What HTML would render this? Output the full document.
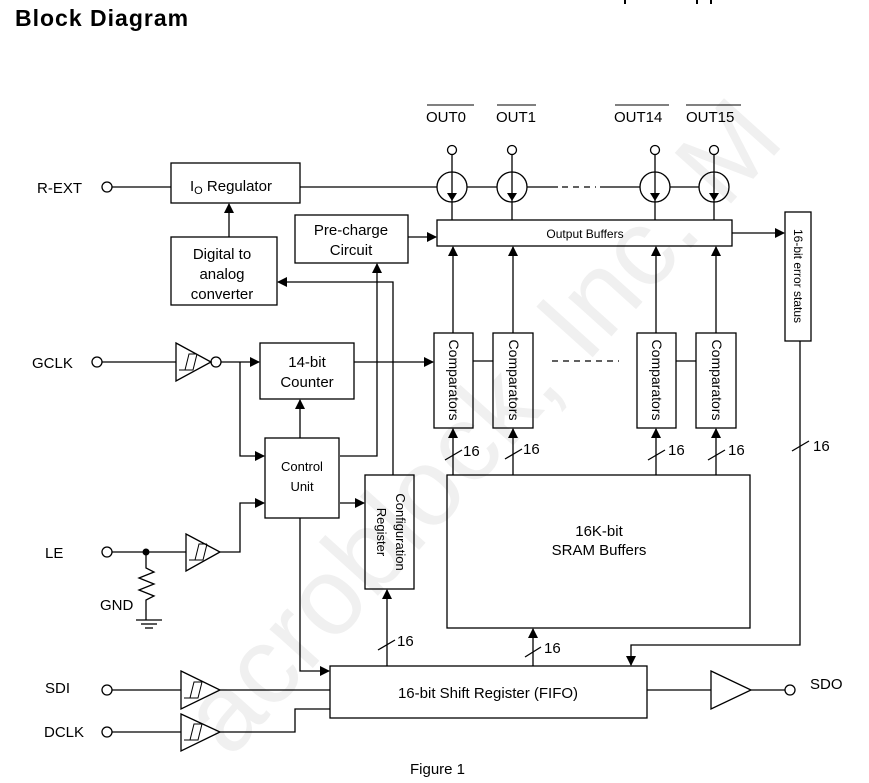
<!DOCTYPE html>
<html><head><meta charset="utf-8"><style>
html,body{margin:0;padding:0;background:#fff;width:869px;height:783px;overflow:hidden;}
svg{display:block;overflow:hidden;}
text{font-family:"Liberation Sans",Arial,sans-serif;fill:#000;}
</style></head><body>
<svg width="869" height="783" viewBox="0 0 869 783" xmlns="http://www.w3.org/2000/svg">
<defs>
<marker id="a" markerWidth="10" markerHeight="10" refX="9" refY="5" orient="auto" markerUnits="userSpaceOnUse">
<path d="M0,0 L10,5 L0,10 z" fill="#000"/></marker>
</defs>
<text x="0" y="0" transform="translate(230,760) rotate(-48)" font-size="110" style="fill:#f0f0f0">acroblock, Inc. M</text>

<text x="15" y="26" font-size="23" font-weight="bold" letter-spacing="1">Block Diagram</text>
<g fill="#000"><rect x="624" y="0" width="2" height="4"/><rect x="696" y="0" width="2" height="4"/><rect x="710" y="0" width="2" height="4"/></g>

<g stroke="#000" stroke-width="1.3" fill="none">
<circle cx="107" cy="187" r="5" fill="#fff"/>
<line x1="112" y1="187" x2="171" y2="187"/>
<rect x="171" y="163" width="129" height="40"/>
<line x1="300" y1="187" x2="437" y2="187"/>
<rect x="171" y="237" width="106" height="68"/>
<line x1="229" y1="237" x2="229" y2="204" marker-end="url(#a)"/>
<rect x="295" y="215" width="113" height="48"/>
<line x1="408" y1="237" x2="436" y2="237" marker-end="url(#a)"/>
<polyline points="340,456 377,456 377,264" marker-end="url(#a)"/>
<polyline points="393,475 393,282 278,282" marker-end="url(#a)"/>

<line x1="467" y1="187" x2="497" y2="187"/>
<line x1="527" y1="187" x2="558" y2="187"/>
<line x1="562" y1="187" x2="596" y2="187" stroke-dasharray="6,5"/>
<line x1="600" y1="187" x2="640" y2="187"/>
<line x1="670" y1="187" x2="699" y2="187"/>
<g>
<circle cx="452" cy="150" r="4.5"/><line x1="452" y1="155" x2="452" y2="220"/><circle cx="452" cy="187" r="15"/>
<circle cx="512" cy="150" r="4.5"/><line x1="512" y1="155" x2="512" y2="220"/><circle cx="512" cy="187" r="15"/>
<circle cx="655" cy="150" r="4.5"/><line x1="655" y1="155" x2="655" y2="220"/><circle cx="655" cy="187" r="15"/>
<circle cx="714" cy="150" r="4.5"/><line x1="714" y1="155" x2="714" y2="220"/><circle cx="714" cy="187" r="15"/>
</g>
<rect x="437" y="220" width="295" height="26"/>
<line x1="732" y1="233" x2="784" y2="233" marker-end="url(#a)"/>
<rect x="785" y="212" width="26" height="129"/>

<rect x="434" y="333" width="39" height="95"/>
<rect x="493" y="333" width="40" height="95"/>
<rect x="637" y="333" width="39" height="95"/>
<rect x="696" y="333" width="40" height="95"/>
<line x1="473" y1="361" x2="493" y2="361"/>
<line x1="676" y1="361" x2="696" y2="361"/>
<line x1="552" y1="361" x2="619" y2="361" stroke-dasharray="6,5"/>
<line x1="453" y1="333" x2="453" y2="247" marker-end="url(#a)"/>
<line x1="513" y1="333" x2="513" y2="247" marker-end="url(#a)"/>
<line x1="656" y1="333" x2="656" y2="247" marker-end="url(#a)"/>
<line x1="716" y1="333" x2="716" y2="247" marker-end="url(#a)"/>
<line x1="453" y1="475" x2="453" y2="429" marker-end="url(#a)"/>
<line x1="513" y1="475" x2="513" y2="429" marker-end="url(#a)"/>
<line x1="656" y1="475" x2="656" y2="429" marker-end="url(#a)"/>
<line x1="716" y1="475" x2="716" y2="429" marker-end="url(#a)"/>
<line x1="445" y1="460" x2="462" y2="450"/>
<line x1="505" y1="459" x2="522" y2="449"/>
<line x1="648" y1="460" x2="665" y2="450"/>
<line x1="708" y1="460" x2="725" y2="450"/>
<line x1="792" y1="451" x2="809" y2="441"/>
<polyline points="800,341 800,645 631,645 631,665" marker-end="url(#a)"/>

<rect x="447" y="475" width="303" height="153"/>
<line x1="533" y1="666" x2="533" y2="629" marker-end="url(#a)"/>
<line x1="525" y1="657" x2="541" y2="647"/>

<circle cx="97" cy="362" r="5"/>
<line x1="102" y1="362" x2="176" y2="362"/>
<polygon points="176,343 211,362 176,381"/>
<circle cx="216" cy="362" r="5"/>
<line x1="221" y1="362" x2="259" y2="362" marker-end="url(#a)"/>
<rect x="260" y="343" width="94" height="56"/>
<line x1="354" y1="362" x2="433" y2="362" marker-end="url(#a)"/>
<polyline points="240,362 240,456 264,456" marker-end="url(#a)"/>
<rect x="265" y="438" width="74" height="80"/>
<line x1="300" y1="438" x2="300" y2="400" marker-end="url(#a)"/>
<line x1="340" y1="503" x2="364" y2="503" marker-end="url(#a)"/>
<rect x="365" y="475" width="49" height="114"/>

<circle cx="107" cy="552" r="5"/>
<line x1="112" y1="552" x2="186" y2="552"/>
<polygon points="186,534 220,552 186,571"/>
<polyline points="220,552 240,552 240,503 264,503" marker-end="url(#a)"/>
<polyline points="146,552 146,568 154,572 139,578 154,584 139,590 154,596 146,600 146,620"/>
<line x1="136" y1="620" x2="162" y2="620"/>
<line x1="141" y1="624" x2="157" y2="624"/>
<line x1="145" y1="628" x2="153" y2="628"/>

<polyline points="300,518 300,671 329,671" marker-end="url(#a)"/>
<rect x="330" y="666" width="317" height="52"/>
<line x1="387" y1="666" x2="387" y2="590" marker-end="url(#a)"/>
<line x1="378" y1="650" x2="395" y2="640"/>

<circle cx="107" cy="690" r="5"/>
<line x1="112" y1="690" x2="181" y2="690"/>
<polygon points="181,671 220,690 181,709"/>
<line x1="220" y1="690" x2="330" y2="690"/>
<circle cx="107" cy="732" r="5"/>
<line x1="112" y1="732" x2="181" y2="732"/>
<polygon points="181,714 220,732 181,751"/>
<polyline points="220,732 295,732 295,709 330,709"/>

<line x1="647" y1="690" x2="711" y2="690"/>
<polygon points="711,671 751,690 711,709"/>
<line x1="751" y1="690" x2="785" y2="690"/>
<circle cx="790" cy="690" r="5"/>
</g>
<g stroke="#000" stroke-width="1" fill="none">
<path d="M179,370 L185,370 L189,354 L197,354 M185,370 L193,370 L197,354"/>
<path d="M189,560 L195,560 L199,544 L207,544 M195,560 L203,560 L207,544"/>
<path d="M184,698 L190,698 L194,682 L202,682 M190,698 L198,698 L202,682"/>
<path d="M184,740 L190,740 L194,724 L202,724 M190,740 L198,740 L202,724"/>
</g>
<circle cx="146" cy="552" r="3.5" fill="#000"/>
<g fill="#000">
<path d="M447,193 L457,193 L452,201 z"/><path d="M507,193 L517,193 L512,201 z"/>
<path d="M650,193 L660,193 L655,201 z"/><path d="M709,193 L719,193 L714,201 z"/>
</g>

<g font-size="15">
<text x="37" y="193">R-EXT</text>
<text x="32" y="368">GCLK</text>
<text x="45" y="558">LE</text>
<text x="100" y="610">GND</text>
<text x="45" y="693">SDI</text>
<text x="44" y="737">DCLK</text>
<text x="810" y="689">SDO</text>
<text x="190" y="191">I<tspan font-size="11" dy="3">O</tspan><tspan dy="-3"> Regulator</tspan></text>
<text x="222" y="259" text-anchor="middle">Digital to</text>
<text x="222" y="279" text-anchor="middle">analog</text>
<text x="222" y="299" text-anchor="middle">converter</text>
<text x="351" y="235" text-anchor="middle">Pre-charge</text>
<text x="351" y="255" text-anchor="middle">Circuit</text>
<text x="307" y="367" text-anchor="middle">14-bit</text>
<text x="307" y="387" text-anchor="middle">Counter</text>
<text x="599" y="536" text-anchor="middle">16K-bit</text>
<text x="599" y="555" text-anchor="middle">SRAM Buffers</text>
<text x="488" y="698" text-anchor="middle">16-bit Shift Register (FIFO)</text>
<text x="426" y="122">OUT0</text>
<text x="496" y="122">OUT1</text>
<text x="614" y="122">OUT14</text>
<text x="686" y="122">OUT15</text>
<text x="410" y="774">Figure 1</text>
<text x="463" y="456">16</text><text x="523" y="454">16</text>
<text x="668" y="455">16</text><text x="728" y="455">16</text>
<text x="813" y="451">16</text><text x="397" y="646">16</text>
<text x="544" y="653">16</text>
</g>
<g stroke="#000" stroke-width="1">
<line x1="427" y1="105" x2="474" y2="105"/><line x1="497" y1="105" x2="536" y2="105"/>
<line x1="615" y1="105" x2="669" y2="105"/><line x1="686" y1="105" x2="741" y2="105"/>
</g>
<g font-size="13">
<text x="302" y="471" text-anchor="middle">Control</text>
<text x="302" y="491" text-anchor="middle">Unit</text>
<text x="585" y="238" text-anchor="middle" font-size="12">Output Buffers</text>
<text transform="translate(396,532) rotate(90)" text-anchor="middle">Configuration</text>
<text transform="translate(377,532) rotate(90)" text-anchor="middle">Register</text>
<text transform="translate(449,380) rotate(90)" text-anchor="middle" font-size="14">Comparators</text>
<text transform="translate(509,380) rotate(90)" text-anchor="middle" font-size="14">Comparators</text>
<text transform="translate(652,380) rotate(90)" text-anchor="middle" font-size="14">Comparators</text>
<text transform="translate(712,380) rotate(90)" text-anchor="middle" font-size="14">Comparators</text>
<text transform="translate(794,276) rotate(90)" text-anchor="middle" font-size="12">16-bit error status</text>
</g>
</svg>
</body></html>
